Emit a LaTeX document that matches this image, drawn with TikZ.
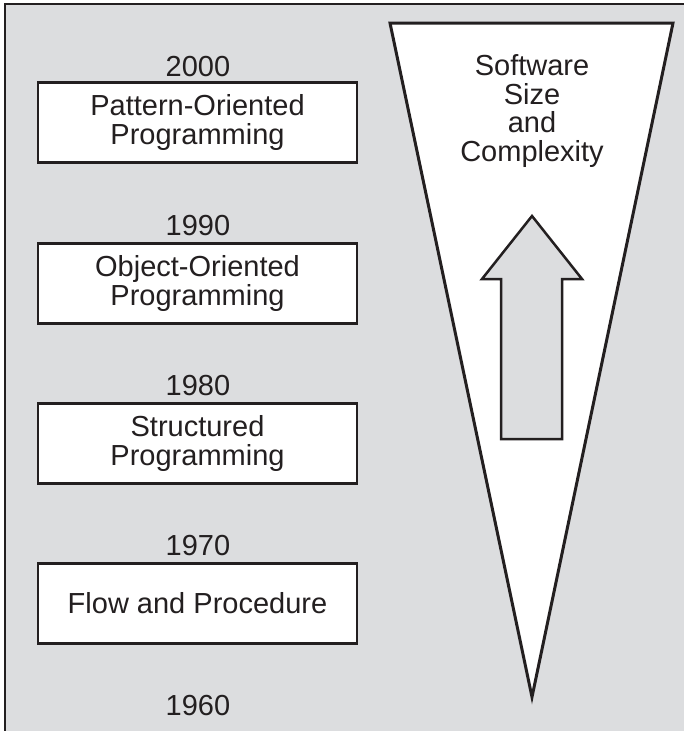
\documentclass[tikz,border=0pt]{standalone}
\usepackage{fontspec}
\setmainfont{Liberation Sans}
\definecolor{bggrey}{RGB}{220,221,223}
\definecolor{ink}{RGB}{35,31,32}
\begin{document}
\begin{tikzpicture}[x=1pt,y=-1pt,
  eralabel/.style={font=\fontsize{29}{30}\selectfont, text=ink, inner sep=0pt},
  erabox/.style={draw=ink, line width=2.6pt, fill=white, minimum width=319pt, minimum height=80pt,
    align=center, font=\fontsize{29}{29}\selectfont, text=ink, inner sep=0pt}]
\useasboundingbox (0,0) rectangle (684,731);
\fill[white] (0,0) rectangle (684,731);
\fill[bggrey] (5,4) rectangle (684,731);
\draw[ink, line width=2pt] (5,731) -- (5,4) -- (684,4);
% triangle
\draw[ink, line width=3pt, fill=white, line join=miter] (390,23) -- (673,23) -- (532,697) -- cycle;
% arrow
\draw[ink, line width=2.5pt, fill=bggrey, line join=miter] (532,216) -- (582,279) -- (562,279) -- (562,439) -- (501,439) -- (501,279) -- (482,279) -- cycle;
\node[eralabel, align=center, font=\fontsize{29}{28.7}\selectfont] (tri) at (532,111) {Software\\Size\\and\\Complexity};
% boxes
\node[erabox] (b1) at (197.5,122.5) {Pattern-Oriented\\Programming};
\node[erabox] (b2) at (197.5,283.5) {Object-Oriented\\Programming};
\node[erabox] (b3) at (197.5,443.5) {Structured\\Programming};
\node[erabox] (b4) at (197.5,603.5) {Flow and Procedure};
% years
\node[eralabel] (y2000) at (198,67) {2000};
\node[eralabel] (y1990) at (198,226) {1990};
\node[eralabel] (y1980) at (198,386) {1980};
\node[eralabel] (y1970) at (198,546) {1970};
\node[eralabel] (y1960) at (198,706) {1960};
\end{tikzpicture}
\end{document}
